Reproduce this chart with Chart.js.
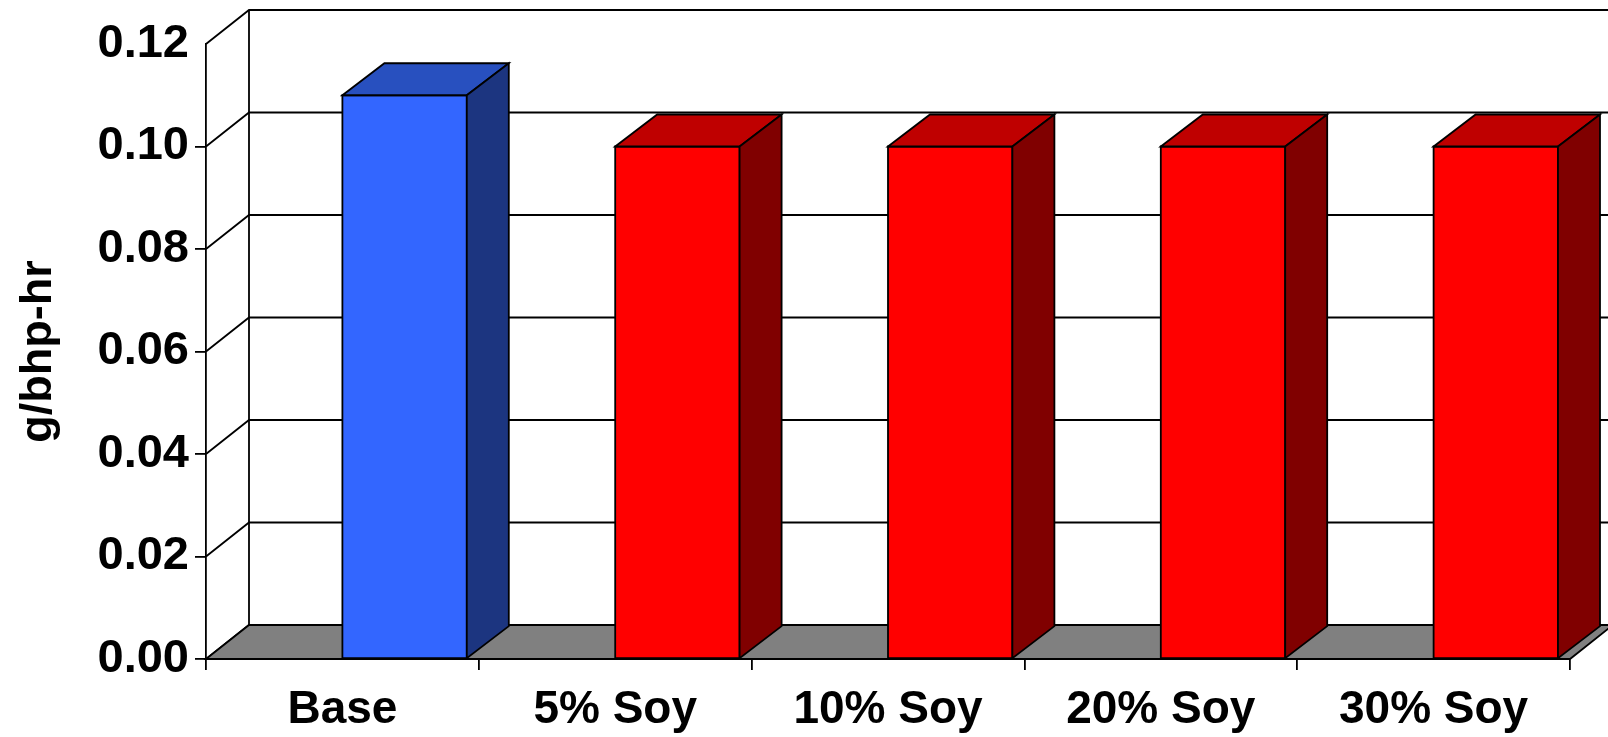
<!DOCTYPE html>
<html>
<head>
<meta charset="utf-8">
<script src="https://cdn.jsdelivr.net/npm/chart.js@4"></script>
<style>
  body { margin: 0; background: #fff; }
  #wrap { width: 1608px; height: 737px; }
</style>
</head>
<body>
<div id="wrap"><canvas id="emissions" width="1608" height="737"></canvas></div>
<script>
const categories = ['Base', '5% Soy', '10% Soy', '20% Soy', '30% Soy'];
const values = [0.11, 0.10, 0.10, 0.10, 0.10];
const yMax = 0.12;
const yStep = 0.02;

// face colours per bar: front, top, side
const frontColors = ['#3366FF', '#FF0000', '#FF0000', '#FF0000', '#FF0000'];
const topColors = ['#2850BF', '#BF0000', '#BF0000', '#BF0000', '#BF0000'];
const sideColors = ['#1C3580', '#800000', '#800000', '#800000', '#800000'];

// depth offsets of the fake 3d: walls/floor and bars
const WALL_DX = 43;
const WALL_DY = 34;
const BAR_DX = 42;
const BAR_DY = 32;
const LINE = 1.8;
const FONT = '"Liberation Sans", Arial, sans-serif';

function poly(ctx, pts, fill) {
  ctx.beginPath();
  ctx.moveTo(pts[0][0], pts[0][1]);
  for (let i = 1; i < pts.length; i++) ctx.lineTo(pts[i][0], pts[i][1]);
  ctx.closePath();
  if (fill) { ctx.fillStyle = fill; ctx.fill(); }
  ctx.stroke();
}

const box3d = {
  id: 'box3d',
  beforeDatasetsDraw(chart) {
    const ctx = chart.ctx;
    const { left, right, top, bottom } = chart.chartArea;
    const y = chart.scales.y;
    ctx.save();
    ctx.strokeStyle = '#000';
    ctx.lineWidth = LINE;

    // back wall grid and side wall diagonals
    for (let v = 0; v <= yMax + 1e-9; v += yStep) {
      const py = y.getPixelForValue(v);
      ctx.beginPath();
      ctx.moveTo(left, py);
      ctx.lineTo(left + WALL_DX, py - WALL_DY);
      ctx.lineTo(right + WALL_DX, py - WALL_DY);
      ctx.stroke();
    }
    ctx.beginPath();
    ctx.moveTo(left + WALL_DX, top - WALL_DY);
    ctx.lineTo(left + WALL_DX, bottom - WALL_DY);
    ctx.stroke();

    // floor
    poly(ctx, [[left, bottom], [right, bottom], [right + WALL_DX, bottom - WALL_DY], [left + WALL_DX, bottom - WALL_DY]], '#808080');
    ctx.restore();
  },
  afterDatasetsDraw(chart) {
    const ctx = chart.ctx;
    const meta = chart.getDatasetMeta(0);
    ctx.save();
    ctx.strokeStyle = '#000';
    ctx.lineWidth = LINE;
    ctx.lineJoin = 'miter';
    meta.data.forEach((bar, i) => {
      // front face starts at the category centre
      const x0 = bar.x;
      const x1 = bar.x + bar.width;
      const yt = bar.y;
      const yb = bar.base;
      poly(ctx, [[x0, yt], [x1, yt], [x1, yb], [x0, yb]], frontColors[i]);
      poly(ctx, [[x0, yt], [x0 + BAR_DX, yt - BAR_DY], [x1 + BAR_DX, yt - BAR_DY], [x1, yt]], topColors[i]);
      poly(ctx, [[x1, yt], [x1 + BAR_DX, yt - BAR_DY], [x1 + BAR_DX, yb - BAR_DY], [x1, yb]], sideColors[i]);
    });
    ctx.restore();
  }
};

new Chart(document.getElementById('emissions'), {
  type: 'bar',
  data: {
    labels: categories,
    datasets: [{
      data: values,
      backgroundColor: 'rgba(0,0,0,0)',
      borderWidth: 0,
      categoryPercentage: 1,
      barPercentage: 0.456
    }]
  },
  options: {
    responsive: false,
    animation: false,
    events: [],
    layout: { padding: { top: 44, right: 38, left: 0, bottom: 0 } },
    plugins: { legend: { display: false }, tooltip: { enabled: false } },
    scales: {
      x: {
        afterFit(scale) { scale.height = 78; },
        border: { display: true, color: '#000', width: LINE },
        grid: { drawOnChartArea: false, drawTicks: true, tickLength: 11, color: '#000', lineWidth: LINE },
        ticks: { color: '#000', padding: 13, font: { family: FONT, size: 46, weight: 'bold' } }
      },
      y: {
        min: 0,
        max: yMax,
        afterFit(scale) { scale.width = 206; },
        border: { display: true, color: '#000', width: LINE },
        grid: {
          drawOnChartArea: false,
          drawTicks: true,
          tickLength: 11,
          lineWidth: LINE,
          color: ctx => (ctx.tick && ctx.tick.value >= yMax - 1e-9) ? 'rgba(0,0,0,0)' : '#000'
        },
        ticks: {
          stepSize: yStep,
          padding: 6,
          color: '#000',
          font: { family: FONT, size: 47, weight: 'bold' },
          callback: v => v.toFixed(2)
        },
        title: {
          display: true,
          text: 'g/bhp-hr',
          color: '#000',
          padding: { top: 12, bottom: 0 },
          font: { family: FONT, size: 45, weight: 'bold' }
        }
      }
    }
  },
  plugins: [box3d]
});
</script>
</body>
</html>
